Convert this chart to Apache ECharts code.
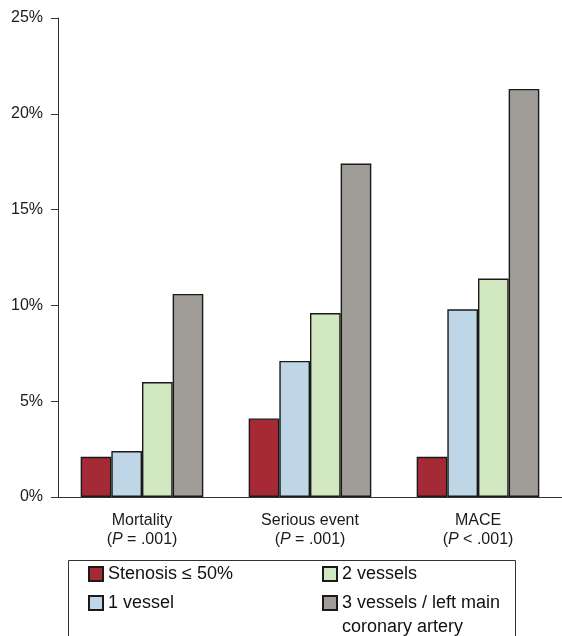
<!DOCTYPE html>
<html>
<head>
<meta charset="utf-8">
<script src="https://cdn.jsdelivr.net/npm/echarts@6/dist/echarts.min.js"></script>
<style>
    html, body { margin: 0; padding: 0; background: #fff; }
    #main { width: 562px; height: 636px; }
</style>
</head>
<body>
<div id="main"></div>
<script>
    var categories = ['Mortality', 'Serious event', 'MACE'];
    var pLabels = ['= .001', '= .001', '< .001'];
    var seriesNames = ['Stenosis ≤ 50%', '1 vessel', '2 vessels', '3 vessels / left main\ncoronary artery'];
    var stenosis = [2.1, 4.1, 2.1];
    var oneVessel = [2.4, 7.1, 9.8];
    var twoVessels = [6.0, 9.6, 11.4];
    var threeVessels = [10.6, 17.4, 21.3];
    var colors = ['#a52a36', '#bed6e6', '#d2e8c0', '#a09d98'];

    var values = [stenosis, oneVessel, twoVessels, threeVessels];
    var font = 'Liberation Sans, Arial, sans-serif';

    var myChart = echarts.init(document.getElementById('main'));

    var series = [];
    for (var i = 0; i < seriesNames.length; i++) {
        series.push({
            name: seriesNames[i],
            type: 'bar',
            data: values[i],
            barGap: '0%',
            barCategoryGap: '27%',
            itemStyle: {
                color: colors[i],
                borderColor: '#1a1a1a',
                borderWidth: 1.4
            }
        });
    }

    // legend: two columns, one legend per item so the order matches
    var legendPos = [[88, 562], [88, 591], [322, 562], [322, 567]];
    var legends = [];
    for (var j = 0; j < seriesNames.length; j++) {
        legends.push({
            orient: 'vertical',
            left: legendPos[j][0],
            top: legendPos[j][1],
            padding: 0,
            data: [seriesNames[j]],
            icon: 'rect',
            itemWidth: 14,
            itemHeight: 14,
            // blank first line keeps the two-line label's first line level with its box
            formatter: j === 3 ? function (name) { return ' \n' + name; } : '{name}',
            textStyle: {
                fontFamily: font,
                fontSize: 18,
                color: '#111',
                lineHeight: 24
            }
        });
    }

    option = {
        animation: false,
        grid: {
            left: 58,
            right: 0,
            top: 18,
            bottom: 139
        },
        xAxis: {
            type: 'category',
            data: categories,
            axisLine: { lineStyle: { color: '#333', width: 1 } },
            axisTick: { length: 6, lineStyle: { color: '#333' } },
            axisLabel: {
                margin: 14,
                fontFamily: font,
                fontSize: 16,
                color: '#1a1a1a',
                lineHeight: 19,
                formatter: function (v, idx) {
                    return v + '\n({i|P} ' + pLabels[idx] + ')';
                },
                rich: {
                    i: { fontStyle: 'italic', fontFamily: font, fontSize: 16, color: '#1a1a1a', lineHeight: 19 }
                }
            }
        },
        yAxis: {
            type: 'value',
            min: 0,
            max: 25,
            interval: 5,
            splitLine: { show: false },
            axisLine: { show: true, lineStyle: { color: '#333', width: 1 } },
            axisTick: { show: true, length: 7, lineStyle: { color: '#333' } },
            axisLabel: {
                formatter: '{value}%',
                fontFamily: font,
                fontSize: 16,
                color: '#1a1a1a',
                margin: 15
            }
        },
        legend: legends,
        graphic: [
            {
                type: 'rect',
                shape: { x: 68.5, y: 560.5, width: 447, height: 100 },
                style: { fill: 'none', stroke: '#333', lineWidth: 1 },
                silent: true
            }
        ],
        series: series
    };

    myChart.setOption(option);
</script>
</body>
</html>
